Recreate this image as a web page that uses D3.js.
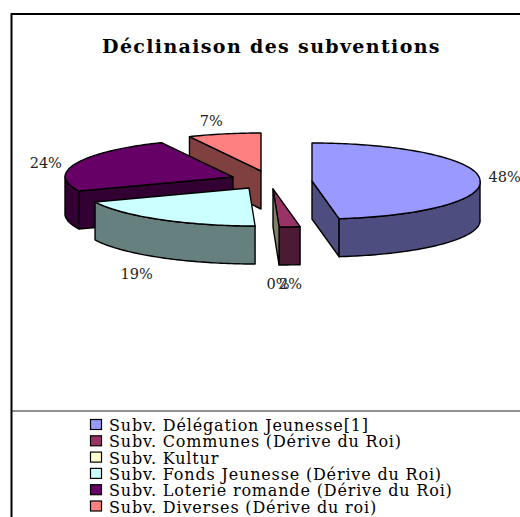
<!DOCTYPE html>
<html>
<head>
<meta charset="utf-8">
<script src="https://cdn.jsdelivr.net/npm/d3@7"></script>
<style>
  html, body { margin: 0; padding: 0; background: #fff; }
  svg { display: block; }
  text { font-family: "DejaVu Serif", serif; fill: #000; }
</style>
</head>
<body>
<div id="chart"></div>
<script>
const title = "Déclinaison des subventions";
const categories = [
    "Subv. Délégation Jeunesse[1]",
    "Subv. Communes (Dérive du Roi)",
    "Subv. Kultur",
    "Subv. Fonds Jeunesse (Dérive du Roi)",
    "Subv. Loterie romande (Dérive du Roi)",
    "Subv. Diverses (Dérive du roi)"
];
const values = [48, 2, 0, 19, 24, 7];
const colors = ["#9999FF", "#993366", "#FFFFCC", "#CCFFFF", "#660066", "#FF8080"];

// how far each slice is pulled out of the pie
const shiftX = [51, 12, 12, -12, -28, 0];
const shiftY = [3, 11, 11, 10, -1, -7];
// label nudges from the rim
const labelDx = [25, 1, -1, -23, -31, -13];
const labelDy = [-1.5, 19, 19, 17, 0, -13];
// back to front
const drawOrder = [5, 4, 3, 1, 2, 0];

const width = 520, height = 517;
const cx = 261, cy = 178;
const rx = 168, ry = 38, depth = 38;
const persp = 0.16; // the front of the pie leans to the right

const svg = d3.select("#chart").append("svg")
    .attr("width", width)
    .attr("height", height);

// frame, open on the right and at the bottom
svg.append("path")
    .attr("d", "M11.5," + height + "V14H" + width)
    .attr("fill", "none")
    .attr("stroke", "#000")
    .attr("stroke-width", 2);
svg.append("line")
    .attr("x1", 12).attr("x2", width)
    .attr("y1", 411).attr("y2", 411)
    .attr("stroke", "#222");

svg.append("text")
    .attr("x", 271.5)
    .attr("y", 53)
    .attr("text-anchor", "middle")
    .attr("font-size", 19)
    .attr("font-weight", "bold")
    .style("letter-spacing", "1.35px")
    .text(title);

let pie = d3.pie().sort(null);
let arcs = pie(values);

function darker(c) {
    let rgb = d3.rgb(c);
    return d3.rgb(rgb.r / 2, rgb.g / 2, rgb.b / 2).formatHex();
}
function rimX(t) {
    return rx * Math.sin(t) + persp * ry * Math.max(0, -Math.cos(t));
}
function rimY(t) {
    return -ry * Math.cos(t);
}

let line = d3.line();

drawOrder.forEach(function(i) {
    let a = arcs[i];
    let ox = cx + shiftX[i], oy = cy + shiftY[i];
    let px = t => ox + rimX(t);
    let py = t => oy + rimY(t);
    let g = svg.append("g").attr("stroke", "#000").attr("stroke-width", 1.4).attr("stroke-linejoin", "round");

    // cut faces
    let cuts = [];
    if (Math.sin(a.startAngle) < -1e-6) cuts.push(a.startAngle);
    if (Math.sin(a.endAngle) > 1e-6 || i == 2) cuts.push(a.endAngle);
    cuts.forEach(function(t) {
        g.append("path")
            .attr("d", line([[ox, oy], [px(t), py(t)], [px(t), py(t) + depth], [ox, oy + depth]]) + "Z")
            .attr("fill", darker(colors[i]));
    });

    // rim, only the part that faces us
    let from = Math.max(a.startAngle, Math.PI / 2), to = Math.min(a.endAngle, 3 * Math.PI / 2);
    if (to > from) {
        let ts = d3.range(from, to, 0.02).concat([to]);
        let upper = ts.map(t => [px(t), py(t)]);
        let lower = ts.slice().reverse().map(t => [px(t), py(t) + depth]);
        g.append("path")
            .attr("d", line(upper.concat(lower)) + "Z")
            .attr("fill", darker(colors[i]));
    }

    // top
    if (a.endAngle > a.startAngle) {
        let ts = d3.range(a.startAngle, a.endAngle, 0.02).concat([a.endAngle]);
        let top = [[ox, oy]].concat(ts.map(t => [px(t), py(t)]));
        g.append("path")
            .attr("d", line(top) + "Z")
            .attr("fill", colors[i]);
    }
});

// percent labels, placed from the middle of each slice
arcs.forEach(function(a, i) {
    let mid = (a.startAngle + a.endAngle) / 2;
    let below = Math.cos(mid) < 0 ? depth : 0;
    svg.append("text")
        .attr("x", cx + shiftX[i] + rimX(mid) + labelDx[i])
        .attr("y", cy + shiftY[i] + rimY(mid) + below + labelDy[i] + 5)
        .attr("text-anchor", "middle")
        .attr("font-size", 14.5)
        .style("fill", "#222")
        .text(values[i] + "%");
});

// legend
let rowY = d3.scalePoint().domain(d3.range(categories.length)).range([425, 506.5]);
let legend = svg.append("g").selectAll("g")
    .data(categories)
    .enter().append("g")
    .attr("transform", function(d, i) { return "translate(90," + rowY(i) + ")"; });
legend.append("rect")
    .attr("x", 0.5).attr("y", -5.5)
    .attr("width", 11).attr("height", 10)
    .attr("fill", function(d, i) { return colors[i]; })
    .attr("stroke", "#000")
    .attr("stroke-width", 1.2);
legend.append("text")
    .attr("x", 19)
    .attr("y", 6)
    .attr("font-size", 16)
    .style("letter-spacing", "0.83px")
    .text(function(d) { return d; });
</script>
</body>
</html>
